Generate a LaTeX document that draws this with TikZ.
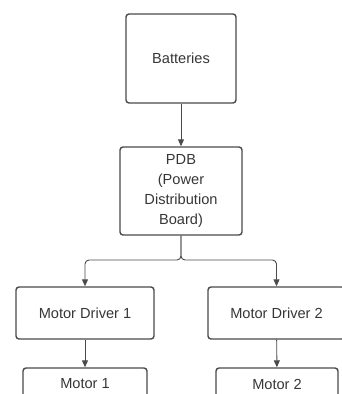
\documentclass[tikz,border=0pt]{standalone}
\usepackage{fontspec}
\setmainfont{Liberation Sans}
\usetikzlibrary{arrows.meta}
\definecolor{linec}{HTML}{4A4A4A}
\definecolor{textc}{HTML}{363636}
\begin{document}
\begin{tikzpicture}[x=1pt,y=-1pt,
  box/.style={draw=linec,line width=1.4pt,rounded corners=3pt,inner sep=0pt,
    align=center,text=textc,font=\fontsize{14.6}{20}\selectfont},
  conn/.style={draw=linec,line width=0.9pt,-{Triangle[length=7pt,width=6pt]}}]
\useasboundingbox (0,0) rectangle (342,394);
\clip (0,0) rectangle (342,394);
\node[box,minimum width=110pt,minimum height=89pt] (bat) at (181,58.5) {Batteries};
\node[box,minimum width=122pt,minimum height=88pt] (pdb) at (181,191) {PDB\\(Power\\Distribution\\Board)};
\node[box,minimum width=138pt,minimum height=52pt] (d1) at (85,313) {Motor Driver 1};
\node[box,minimum width=137pt,minimum height=52pt] (d2) at (276.5,313) {Motor Driver 2};
\node[box,minimum width=124pt,minimum height=32pt] (m1) at (85,384) {Motor 1};
\node[box,minimum width=122pt,minimum height=32pt] (m2) at (277,384) {Motor 2};
\coordinate (br) at (181,260);
\draw[conn] (bat) -- (pdb);
\draw[conn,rounded corners=4pt] (pdb.south) -- (br) -| (d1.north);
\draw[conn,rounded corners=4pt] (pdb.south) -- (br) -| (d2.north);
\draw[conn] (d1) -- (m1);
\draw[conn] (d2) -- (m2);
\end{tikzpicture}
\end{document}
